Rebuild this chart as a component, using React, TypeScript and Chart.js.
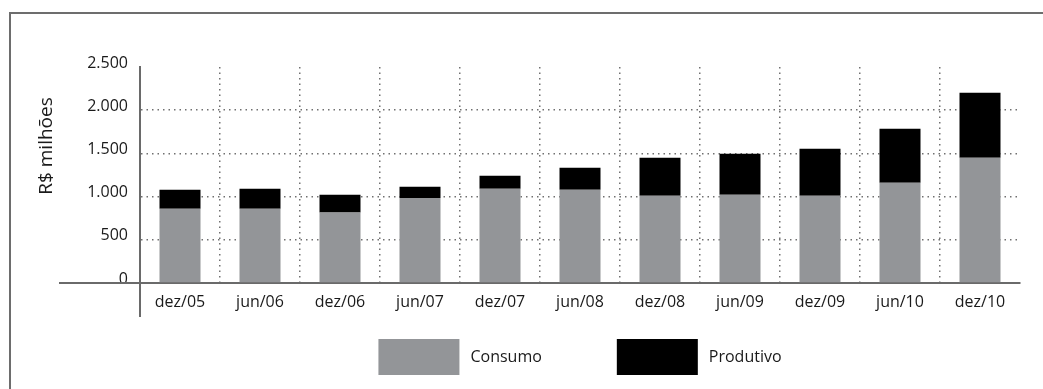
import React, { useEffect, useRef } from "react";
import { Chart, registerables } from "chart.js";

Chart.register(...registerables);

// ---- data ----
const categories = ["dez/05", "jun/06", "dez/06", "jun/07", "dez/07", "jun/08", "dez/08", "jun/09", "dez/09", "jun/10", "dez/10"];
const consumo = [858, 858, 815, 985, 1090, 1078, 1009, 1020, 1009, 1159, 1450];
const produtivo = [220, 232, 205, 128, 150, 255, 440, 476, 544, 627, 753];
const yTickValues = [0, 500, 1000, 1500, 2000, 2500];
const yTickLabels = ["0", "500", "1.000", "1.500", "2.000", "2.500"];
const yAxisTitle = "R$ milhões";
const seriesNames = ["Consumo", "Produtivo"];
const seriesColors = ["#939598", "#000000"];

// ---- styles ----
const W = 1043;
const H = 389;
const FONT = "'Open Sans', 'Noto Sans', sans-serif";
const TEXT = "#1a1a1a";
const AXIS = "#6a6a6a";
const GRID = "#707070";
const FRAME = "#6d6d6d";

const decorPlugin = {
  id: "decor",
  afterDraw(chart: any) {
    const { ctx, chartArea } = chart;
    const { left, right, bottom } = chartArea;
    ctx.save();
    // outer frame (top and left)
    ctx.strokeStyle = FRAME;
    ctx.lineWidth = 2;
    ctx.beginPath();
    ctx.moveTo(10, chart.height);
    ctx.lineTo(10, 13);
    ctx.lineTo(chart.width, 13);
    ctx.stroke();

    // axis extensions
    ctx.strokeStyle = AXIS;
    ctx.lineWidth = 2;
    ctx.beginPath();
    ctx.moveTo(left - 81, bottom);
    ctx.lineTo(left, bottom);
    ctx.moveTo(left, bottom);
    ctx.lineTo(left, bottom + 34);
    ctx.stroke();

    // y axis title
    ctx.fillStyle = TEXT;
    ctx.font = `19px ${FONT}`;
    ctx.textAlign = "center";
    ctx.textBaseline = "alphabetic";
    ctx.save();
    ctx.translate(left - 88, (chartArea.top + bottom) / 2 - 29);
    ctx.rotate(-Math.PI / 2);
    ctx.fillText(yAxisTitle, 0, 0);
    ctx.restore();

    // legend
    const boxW = 81;
    const boxH = 36;
    const textGap = 11;
    const itemGap = 75;
    ctx.font = `16px ${FONT}`;
    const items = chart.data.datasets.map((ds: any) => ({
      label: ds.label,
      color: ds.backgroundColor,
      tw: ctx.measureText(ds.label).width,
    }));
    const total =
      items.reduce((s: number, it: any) => s + boxW + textGap + it.tw, 0) + itemGap * (items.length - 1);
    let x = (left + right) / 2 - total / 2;
    const boxTop = bottom + 56;
    ctx.textAlign = "left";
    ctx.textBaseline = "middle";
    items.forEach((it: any) => {
      ctx.fillStyle = it.color;
      ctx.fillRect(x, boxTop, boxW, boxH);
      ctx.fillStyle = TEXT;
      ctx.fillText(it.label, x + boxW + textGap, boxTop + boxH / 2);
      x += boxW + textGap + it.tw + itemGap;
    });
    ctx.restore();
  },
};

export default function App() {
  const ref = useRef<HTMLCanvasElement | null>(null);

  useEffect(() => {
    document.body.style.margin = "0";
    if (!ref.current) return;
    const chart = new Chart(ref.current, {
      type: "bar",
      data: {
        labels: categories,
        datasets: [
          {
            label: seriesNames[0],
            data: consumo,
            backgroundColor: seriesColors[0],
            barPercentage: 0.5125,
            categoryPercentage: 1,
          },
          {
            label: seriesNames[1],
            data: produtivo,
            backgroundColor: seriesColors[1],
            barPercentage: 0.5125,
            categoryPercentage: 1,
          },
        ],
      },
      options: {
        responsive: false,
        animation: false,
        devicePixelRatio: 1,
        layout: { padding: { left: 0, right: 23, top: 67, bottom: 0 } },
        plugins: {
          legend: { display: false },
          tooltip: { enabled: false },
        },
        scales: {
          x: {
            stacked: true,
            afterFit: (s: any) => {
              s.height = 106;
            },
            grid: {
              offset: true,
              drawTicks: false,
              lineWidth: 1.5,
              color: (c: any) =>
                c.type !== "tick" || c.index === 0 ? "transparent" : GRID,
            },
            border: { display: true, color: AXIS, width: 2, dash: [1.5, 4] },
            ticks: {
              autoSkip: false,
              maxRotation: 0,
              padding: 10,
              color: TEXT,
              font: { family: FONT, size: 16 },
            },
          },
          y: {
            stacked: true,
            min: 0,
            max: 2500,
            afterFit: (s: any) => {
              s.width = 140;
            },
            afterBuildTicks: (s: any) => {
              s.ticks = yTickValues.map((v) => ({ value: v }));
            },
            grid: {
              drawTicks: false,
              lineWidth: 1.5,
              color: (c: any) => {
                const v = c.tick ? c.tick.value : null;
                return v === 0 || v === 2500 || v === null ? "transparent" : GRID;
              },
            },
            border: { display: true, color: AXIS, width: 2, dash: [1.5, 4] },
            ticks: {
              padding: 12,
              labelOffset: -4,
              color: TEXT,
              font: { family: FONT, size: 16 },
              callback: (v: any) => {
                const i = yTickValues.indexOf(Number(v));
                return i >= 0 ? yTickLabels[i] : "";
              },
            },
          },
        },
      },
      plugins: [decorPlugin],
    });
    return () => chart.destroy();
  }, []);

  return (
    <div style={{ width: W, height: H, background: "#fff" }}>
      <canvas ref={ref} width={W} height={H} style={{ display: "block" }} />
    </div>
  );
}
